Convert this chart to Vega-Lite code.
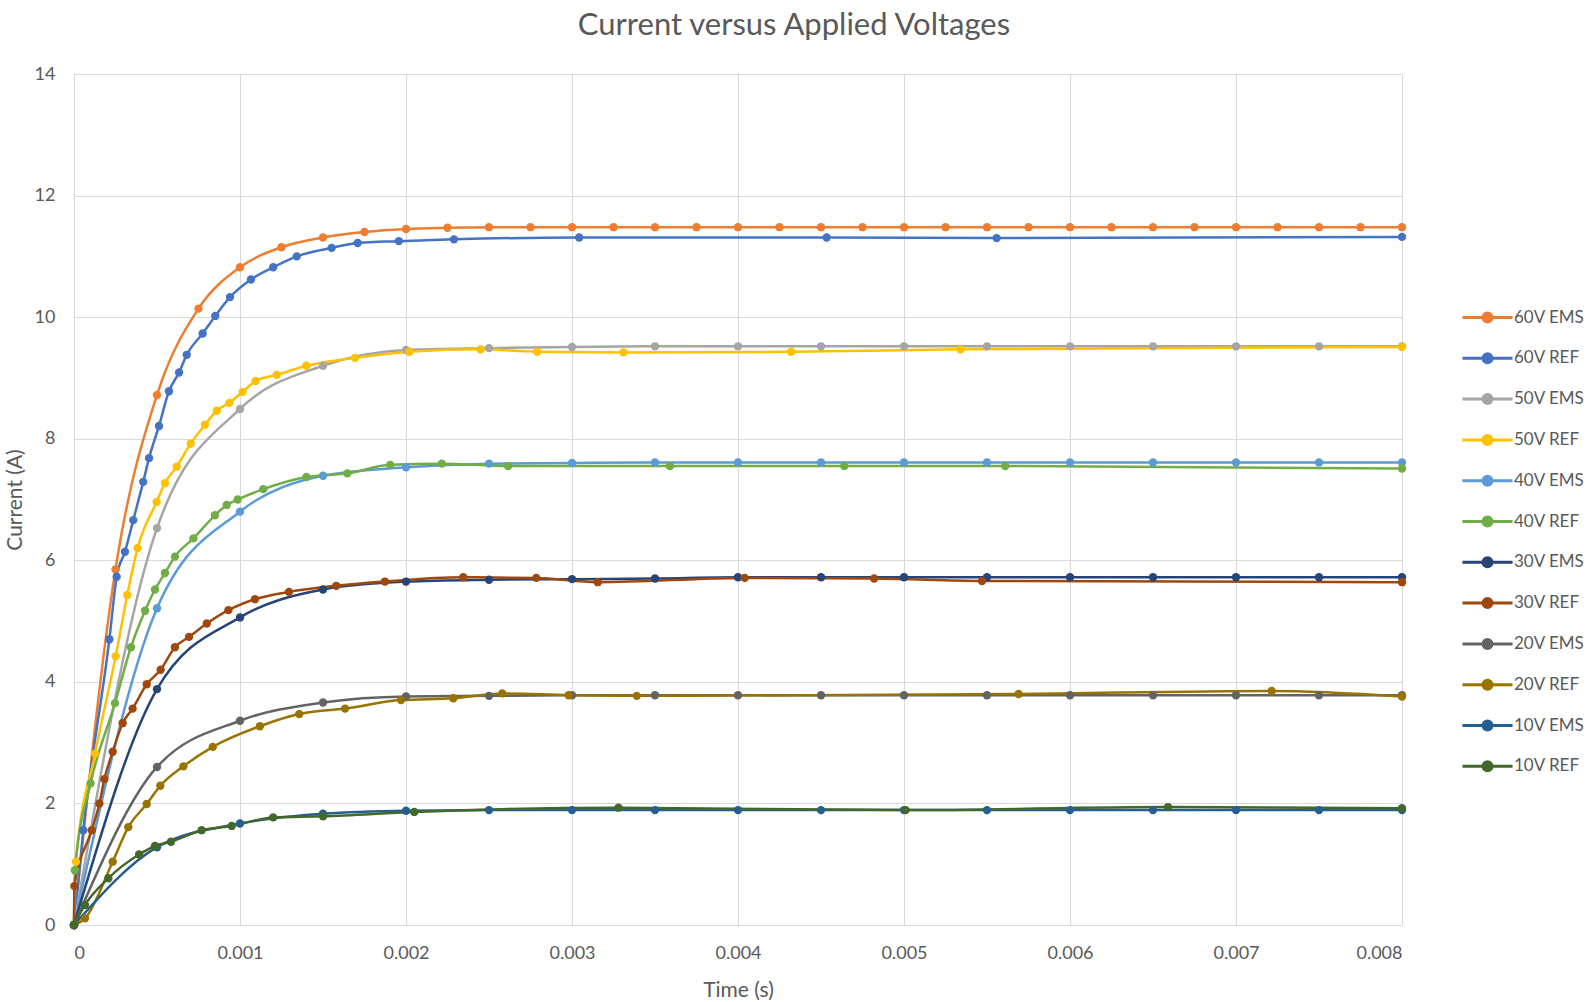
{
  "$schema": "https://vega.github.io/schema/vega-lite/v6.json",
  "autosize": {"type": "none"},
  "width": 1328,
  "height": 851,
  "padding": {"left": 74, "top": 74, "right": 186, "bottom": 77},
  "background": "white",
  "title": {
    "text": "Current versus Applied Voltages",
    "font": "Lato",
    "fontSize": 31,
    "fontWeight": "normal",
    "color": "#595959",
    "anchor": "middle",
    "dx": 56,
    "offset": 23
  },
  "config": {
    "view": {"stroke": null},
    "font": "Lato"
  },
  "data": {
    "values": [
      {"s":"60V EMS","t":0,"i":0},{"s":"60V EMS","t":0.00025,"i":5.85},{"s":"60V EMS","t":0.0005,"i":8.72},{"s":"60V EMS","t":0.00075,"i":10.14},{"s":"60V EMS","t":0.001,"i":10.82},{"s":"60V EMS","t":0.00125,"i":11.15},{"s":"60V EMS","t":0.0015,"i":11.31},{"s":"60V EMS","t":0.00175,"i":11.40},{"s":"60V EMS","t":0.002,"i":11.45},{"s":"60V EMS","t":0.00225,"i":11.47},{"s":"60V EMS","t":0.0025,"i":11.48},{"s":"60V EMS","t":0.00275,"i":11.48},{"s":"60V EMS","t":0.003,"i":11.48},{"s":"60V EMS","t":0.00325,"i":11.48},{"s":"60V EMS","t":0.0035,"i":11.48},{"s":"60V EMS","t":0.00375,"i":11.48},{"s":"60V EMS","t":0.004,"i":11.48},{"s":"60V EMS","t":0.00425,"i":11.48},{"s":"60V EMS","t":0.0045,"i":11.48},{"s":"60V EMS","t":0.00475,"i":11.48},{"s":"60V EMS","t":0.005,"i":11.48},{"s":"60V EMS","t":0.00525,"i":11.48},{"s":"60V EMS","t":0.0055,"i":11.48},{"s":"60V EMS","t":0.00575,"i":11.48},{"s":"60V EMS","t":0.006,"i":11.48},{"s":"60V EMS","t":0.00625,"i":11.48},{"s":"60V EMS","t":0.0065,"i":11.48},{"s":"60V EMS","t":0.00675,"i":11.48},{"s":"60V EMS","t":0.007,"i":11.48},{"s":"60V EMS","t":0.00725,"i":11.48},{"s":"60V EMS","t":0.0075,"i":11.48},{"s":"60V EMS","t":0.00775,"i":11.48},{"s":"60V EMS","t":0.008,"i":11.48},

      {"s":"60V REF","t":0,"i":0},{"s":"60V REF","t":0.000056,"i":1.56},{"s":"60V REF","t":0.000213,"i":4.70},{"s":"60V REF","t":0.000257,"i":5.73},{"s":"60V REF","t":0.000307,"i":6.14},{"s":"60V REF","t":0.000357,"i":6.66},{"s":"60V REF","t":0.000417,"i":7.29},{"s":"60V REF","t":0.000452,"i":7.68},{"s":"60V REF","t":0.000512,"i":8.21},{"s":"60V REF","t":0.000572,"i":8.78},{"s":"60V REF","t":0.000633,"i":9.09},{"s":"60V REF","t":0.000679,"i":9.38},{"s":"60V REF","t":0.000775,"i":9.73},{"s":"60V REF","t":0.000851,"i":10.02},{"s":"60V REF","t":0.00094,"i":10.33},{"s":"60V REF","t":0.001066,"i":10.62},{"s":"60V REF","t":0.0012,"i":10.82},{"s":"60V REF","t":0.001342,"i":11.00},{"s":"60V REF","t":0.001552,"i":11.14},{"s":"60V REF","t":0.001709,"i":11.22},{"s":"60V REF","t":0.001957,"i":11.25},{"s":"60V REF","t":0.002289,"i":11.28},{"s":"60V REF","t":0.003043,"i":11.31},{"s":"60V REF","t":0.004534,"i":11.31},{"s":"60V REF","t":0.005558,"i":11.30},{"s":"60V REF","t":0.008,"i":11.32},

      {"s":"50V EMS","t":0,"i":0},{"s":"50V EMS","t":0.0005,"i":6.53},{"s":"50V EMS","t":0.001,"i":8.49},{"s":"50V EMS","t":0.0015,"i":9.20},{"s":"50V EMS","t":0.002,"i":9.46},{"s":"50V EMS","t":0.0025,"i":9.49},{"s":"50V EMS","t":0.003,"i":9.51},{"s":"50V EMS","t":0.0035,"i":9.52},{"s":"50V EMS","t":0.004,"i":9.52},{"s":"50V EMS","t":0.0045,"i":9.52},{"s":"50V EMS","t":0.005,"i":9.52},{"s":"50V EMS","t":0.0055,"i":9.52},{"s":"50V EMS","t":0.006,"i":9.52},{"s":"50V EMS","t":0.0065,"i":9.52},{"s":"50V EMS","t":0.007,"i":9.52},{"s":"50V EMS","t":0.0075,"i":9.52},{"s":"50V EMS","t":0.008,"i":9.52},

      {"s":"50V REF","t":0,"i":0},{"s":"50V REF","t":0.000012,"i":1.04},{"s":"50V REF","t":0.000127,"i":2.82},{"s":"50V REF","t":0.000251,"i":4.42},{"s":"50V REF","t":0.000321,"i":5.43},{"s":"50V REF","t":0.000383,"i":6.20},{"s":"50V REF","t":0.000498,"i":6.96},{"s":"50V REF","t":0.000548,"i":7.27},{"s":"50V REF","t":0.000619,"i":7.54},{"s":"50V REF","t":0.000703,"i":7.92},{"s":"50V REF","t":0.000789,"i":8.23},{"s":"50V REF","t":0.00086,"i":8.46},{"s":"50V REF","t":0.000936,"i":8.59},{"s":"50V REF","t":0.001016,"i":8.77},{"s":"50V REF","t":0.001094,"i":8.95},{"s":"50V REF","t":0.001221,"i":9.05},{"s":"50V REF","t":0.0014,"i":9.20},{"s":"50V REF","t":0.001693,"i":9.33},{"s":"50V REF","t":0.00202,"i":9.43},{"s":"50V REF","t":0.00245,"i":9.47},{"s":"50V REF","t":0.00279,"i":9.43},{"s":"50V REF","t":0.00331,"i":9.42},{"s":"50V REF","t":0.00432,"i":9.43},{"s":"50V REF","t":0.00534,"i":9.47},{"s":"50V REF","t":0.008,"i":9.51},

      {"s":"40V EMS","t":0,"i":0},{"s":"40V EMS","t":0.0005,"i":5.21},{"s":"40V EMS","t":0.001,"i":6.80},{"s":"40V EMS","t":0.0015,"i":7.39},{"s":"40V EMS","t":0.002,"i":7.53},{"s":"40V EMS","t":0.0025,"i":7.59},{"s":"40V EMS","t":0.003,"i":7.60},{"s":"40V EMS","t":0.0035,"i":7.61},{"s":"40V EMS","t":0.004,"i":7.61},{"s":"40V EMS","t":0.0045,"i":7.61},{"s":"40V EMS","t":0.005,"i":7.61},{"s":"40V EMS","t":0.0055,"i":7.61},{"s":"40V EMS","t":0.006,"i":7.61},{"s":"40V EMS","t":0.0065,"i":7.61},{"s":"40V EMS","t":0.007,"i":7.61},{"s":"40V EMS","t":0.0075,"i":7.61},{"s":"40V EMS","t":0.008,"i":7.61},

      {"s":"40V REF","t":0,"i":0},{"s":"40V REF","t":0.000005,"i":0.90},{"s":"40V REF","t":0.0001,"i":2.33},{"s":"40V REF","t":0.000247,"i":3.65},{"s":"40V REF","t":0.000343,"i":4.57},{"s":"40V REF","t":0.000428,"i":5.17},{"s":"40V REF","t":0.000488,"i":5.52},{"s":"40V REF","t":0.000548,"i":5.79},{"s":"40V REF","t":0.000608,"i":6.06},{"s":"40V REF","t":0.000719,"i":6.36},{"s":"40V REF","t":0.000849,"i":6.74},{"s":"40V REF","t":0.00092,"i":6.91},{"s":"40V REF","t":0.000986,"i":7.00},{"s":"40V REF","t":0.00114,"i":7.17},{"s":"40V REF","t":0.0014,"i":7.37},{"s":"40V REF","t":0.001647,"i":7.43},{"s":"40V REF","t":0.001905,"i":7.57},{"s":"40V REF","t":0.002215,"i":7.59},{"s":"40V REF","t":0.002615,"i":7.55},{"s":"40V REF","t":0.00359,"i":7.55},{"s":"40V REF","t":0.00464,"i":7.55},{"s":"40V REF","t":0.00561,"i":7.55},{"s":"40V REF","t":0.008,"i":7.51},

      {"s":"30V EMS","t":0,"i":0},{"s":"30V EMS","t":0.0005,"i":3.88},{"s":"30V EMS","t":0.001,"i":5.06},{"s":"30V EMS","t":0.0015,"i":5.52},{"s":"30V EMS","t":0.002,"i":5.65},{"s":"30V EMS","t":0.0025,"i":5.68},{"s":"30V EMS","t":0.003,"i":5.69},{"s":"30V EMS","t":0.0035,"i":5.70},{"s":"30V EMS","t":0.004,"i":5.72},{"s":"30V EMS","t":0.0045,"i":5.72},{"s":"30V EMS","t":0.005,"i":5.72},{"s":"30V EMS","t":0.0055,"i":5.72},{"s":"30V EMS","t":0.006,"i":5.72},{"s":"30V EMS","t":0.0065,"i":5.72},{"s":"30V EMS","t":0.007,"i":5.72},{"s":"30V EMS","t":0.0075,"i":5.72},{"s":"30V EMS","t":0.008,"i":5.72},

      {"s":"30V REF","t":0,"i":0},{"s":"30V REF","t":0.000002,"i":0.64},{"s":"30V REF","t":0.000107,"i":1.56},{"s":"30V REF","t":0.000153,"i":2.00},{"s":"30V REF","t":0.000183,"i":2.40},{"s":"30V REF","t":0.000233,"i":2.85},{"s":"30V REF","t":0.000293,"i":3.32},{"s":"30V REF","t":0.000353,"i":3.56},{"s":"30V REF","t":0.000438,"i":3.96},{"s":"30V REF","t":0.000522,"i":4.20},{"s":"30V REF","t":0.000608,"i":4.57},{"s":"30V REF","t":0.000693,"i":4.74},{"s":"30V REF","t":0.0008,"i":4.96},{"s":"30V REF","t":0.00093,"i":5.18},{"s":"30V REF","t":0.00109,"i":5.36},{"s":"30V REF","t":0.001295,"i":5.48},{"s":"30V REF","t":0.00158,"i":5.58},{"s":"30V REF","t":0.001873,"i":5.65},{"s":"30V REF","t":0.002345,"i":5.72},{"s":"30V REF","t":0.002785,"i":5.71},{"s":"30V REF","t":0.003155,"i":5.64},{"s":"30V REF","t":0.00404,"i":5.71},{"s":"30V REF","t":0.00482,"i":5.70},{"s":"30V REF","t":0.00547,"i":5.66},{"s":"30V REF","t":0.008,"i":5.64},

      {"s":"20V EMS","t":0,"i":0},{"s":"20V EMS","t":0.0005,"i":2.60},{"s":"20V EMS","t":0.001,"i":3.36},{"s":"20V EMS","t":0.0015,"i":3.66},{"s":"20V EMS","t":0.002,"i":3.76},{"s":"20V EMS","t":0.0025,"i":3.77},{"s":"20V EMS","t":0.003,"i":3.78},{"s":"20V EMS","t":0.0035,"i":3.78},{"s":"20V EMS","t":0.004,"i":3.78},{"s":"20V EMS","t":0.0045,"i":3.78},{"s":"20V EMS","t":0.005,"i":3.78},{"s":"20V EMS","t":0.0055,"i":3.78},{"s":"20V EMS","t":0.006,"i":3.78},{"s":"20V EMS","t":0.0065,"i":3.78},{"s":"20V EMS","t":0.007,"i":3.78},{"s":"20V EMS","t":0.0075,"i":3.78},{"s":"20V EMS","t":0.008,"i":3.78},

      {"s":"20V REF","t":0,"i":0},{"s":"20V REF","t":0.000066,"i":0.11},{"s":"20V REF","t":0.000233,"i":1.04},{"s":"20V REF","t":0.000327,"i":1.61},{"s":"20V REF","t":0.000438,"i":1.99},{"s":"20V REF","t":0.00052,"i":2.29},{"s":"20V REF","t":0.000659,"i":2.61},{"s":"20V REF","t":0.000836,"i":2.93},{"s":"20V REF","t":0.00112,"i":3.27},{"s":"20V REF","t":0.001357,"i":3.47},{"s":"20V REF","t":0.001633,"i":3.56},{"s":"20V REF","t":0.00197,"i":3.70},{"s":"20V REF","t":0.002285,"i":3.73},{"s":"20V REF","t":0.00258,"i":3.81},{"s":"20V REF","t":0.00298,"i":3.78},{"s":"20V REF","t":0.00339,"i":3.77},{"s":"20V REF","t":0.00569,"i":3.80},{"s":"20V REF","t":0.007215,"i":3.85},{"s":"20V REF","t":0.008,"i":3.76},

      {"s":"10V EMS","t":0,"i":0},{"s":"10V EMS","t":0.0005,"i":1.28},{"s":"10V EMS","t":0.001,"i":1.67},{"s":"10V EMS","t":0.0015,"i":1.83},{"s":"10V EMS","t":0.002,"i":1.88},{"s":"10V EMS","t":0.0025,"i":1.89},{"s":"10V EMS","t":0.003,"i":1.89},{"s":"10V EMS","t":0.0035,"i":1.89},{"s":"10V EMS","t":0.004,"i":1.89},{"s":"10V EMS","t":0.0045,"i":1.89},{"s":"10V EMS","t":0.005,"i":1.89},{"s":"10V EMS","t":0.0055,"i":1.89},{"s":"10V EMS","t":0.006,"i":1.89},{"s":"10V EMS","t":0.0065,"i":1.89},{"s":"10V EMS","t":0.007,"i":1.89},{"s":"10V EMS","t":0.0075,"i":1.89},{"s":"10V EMS","t":0.008,"i":1.89},

      {"s":"10V REF","t":0,"i":0},{"s":"10V REF","t":0.000066,"i":0.33},{"s":"10V REF","t":0.000207,"i":0.77},{"s":"10V REF","t":0.000392,"i":1.16},{"s":"10V REF","t":0.000488,"i":1.30},{"s":"10V REF","t":0.000584,"i":1.37},{"s":"10V REF","t":0.000769,"i":1.56},{"s":"10V REF","t":0.00095,"i":1.63},{"s":"10V REF","t":0.0012,"i":1.77},{"s":"10V REF","t":0.0015,"i":1.79},{"s":"10V REF","t":0.00205,"i":1.86},{"s":"10V REF","t":0.00328,"i":1.93},{"s":"10V REF","t":0.00501,"i":1.89},{"s":"10V REF","t":0.00659,"i":1.94},{"s":"10V REF","t":0.008,"i":1.92}
    ]
  },
  "encoding": {
    "x": {
      "field": "t", "type": "quantitative",
      "scale": {"domain": [0, 0.008], "nice": false},
      "axis": {
        "values": [0, 0.001, 0.002, 0.003, 0.004, 0.005, 0.006, 0.007, 0.008],
        "format": ".3~f",
        "grid": true, "gridColor": "#d9d9d9", "gridWidth": 1,
        "ticks": false, "domain": true, "domainColor": "#d9d9d9",
        "labelPadding": 19, "labelFontSize": 18, "labelColor": "#595959", "labelFont": "Lato",
        "title": "Time (s)", "titleFontSize": 21, "titleFontWeight": "normal", "titleColor": "#595959", "titleFont": "Lato",
        "titlePadding": 17
      }
    },
    "y": {
      "field": "i", "type": "quantitative",
      "scale": {"domain": [0, 14], "nice": false},
      "axis": {
        "values": [0, 2, 4, 6, 8, 10, 12, 14],
        "grid": true, "gridColor": "#d9d9d9", "gridWidth": 1,
        "ticks": false, "domain": false,
        "labelPadding": 19, "labelFontSize": 18, "labelColor": "#595959", "labelFont": "Lato",
        "title": "Current (A)", "titleFontSize": 21, "titleFontWeight": "normal", "titleColor": "#595959", "titleFont": "Lato",
        "titlePadding": 9
      }
    },
    "color": {
      "field": "s", "type": "nominal",
      "scale": {
        "domain": ["60V EMS","60V REF","50V EMS","50V REF","40V EMS","40V REF","30V EMS","30V REF","20V EMS","20V REF","10V EMS","10V REF"],
        "range": ["#ED7D31","#4472C4","#A5A5A5","#FFC000","#5B9BD5","#70AD47","#264478","#9E480E","#636363","#997300","#255E91","#43682B"]
      },
      "legend": {
        "title": null,
        "orient": "none",
        "legendX": 1397,
        "legendY": 227,
        "padding": 0,
        "symbolType": "M-1.67,0L1.67,0M-0.3,0A0.3,0.3,0,1,1,0.3,0A0.3,0.3,0,1,1,-0.3,0Z",
        "symbolSize": 900,
        "symbolStrokeWidth": 3,
        "labelOffset": 10,
        "labelFontSize": 17,
        "labelFont": "Lato",
        "labelColor": "#595959",
        "rowPadding": 13.8,
        "labelLimit": 300,
        "encode": {
          "symbols": {
            "update": {
              "fill": {"scale": "color", "field": "value"},
              "stroke": {"scale": "color", "field": "value"},
              "strokeWidth": {"value": 3},
              "opacity": {"value": 1}
            }
          }
        }
      }
    }
  },
  "layer": [
    {
      "mark": {"type": "line", "interpolate": "monotone", "strokeWidth": 2.5}
    },
    {
      "mark": {"type": "point", "filled": true, "size": 70, "opacity": 1}
    }
  ]
}
